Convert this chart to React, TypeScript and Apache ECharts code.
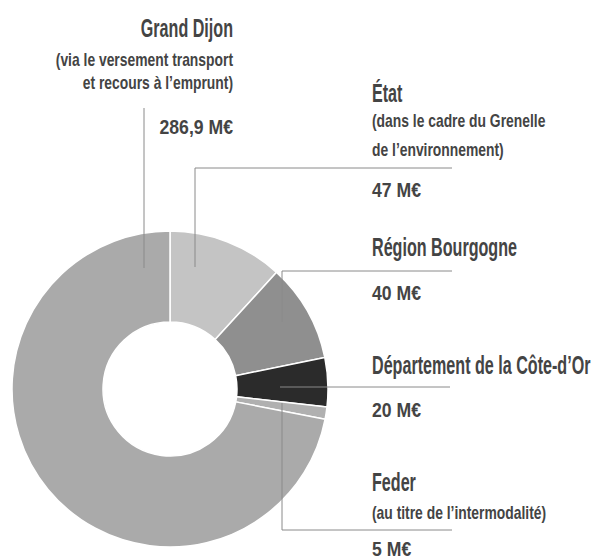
import React, { useEffect, useRef } from "react";
import * as echarts from "echarts";

// Data (clockwise from 12 o'clock)
const categories = ["État", "Région Bourgogne", "Département de la Côte-d’Or", "Feder", "Grand Dijon"];
const amounts = [47, 40, 20, 5, 286.9];
const notes: string[][] = [
  ["(dans le cadre du Grenelle", "de l’environnement)"],
  [],
  [],
  ["(au titre de l’intermodalité)"],
  ["(via le versement transport", "et recours à l’emprunt)"],
];
const unit = "M€";

// Styles
const sliceColors = ["#c4c4c4", "#8f8f8f", "#2b2b2b", "#b0b0b0", "#aaaaaa"];
const FONT = '"Liberation Sans", Arial, sans-serif';
const TEXT_COLOR = "#444444";
const LINE_COLOR = "#8a8a8a";

// Label layout (annotation positions)
const layout = [
  { x: 372, align: "left", titleY: 101, noteYs: [126, 155], valueY: 196, line: [[195, 267], [195, 168], [452, 168]] },
  { x: 372, align: "left", titleY: 255, noteYs: [], valueY: 299, line: [[282, 322], [282, 271], [452, 271]] },
  { x: 372, align: "left", titleY: 373, noteYs: [], valueY: 416, line: [[280, 387], [450, 387]] },
  { x: 372, align: "left", titleY: 490, noteYs: [518], valueY: 555, line: [[282, 403], [282, 530], [452, 530]] },
  { x: 233, align: "right", titleY: 36, noteYs: [65, 88], valueY: 133, line: [[144, 108], [144, 268]] },
];

function fmt(v: number) {
  return String(v).replace(".", ",") + " " + unit;
}

function txt(text: string, x: number, y: number, align: string, size: number, sx: number) {
  return {
    type: "text",
    x,
    y,
    scaleX: sx,
    z: 100,
    silent: true,
    style: {
      text,
      x: 0,
      y: 0,
      textAlign: align,
      textVerticalAlign: "bottom",
      font: `bold ${size}px ${FONT}`,
      fill: TEXT_COLOR,
    },
  };
}

export default function App() {
  const ref = useRef<HTMLDivElement>(null);
  useEffect(() => {
    if (!ref.current) return;
    const chart = echarts.init(ref.current, undefined, { renderer: "svg" });
    const graphics: any[] = [];
    categories.forEach((name, i) => {
      const L = layout[i];
      graphics.push({
        type: "polyline",
        z: 100,
        silent: true,
        shape: { points: L.line },
        style: { stroke: LINE_COLOR, lineWidth: 1, fill: null },
      });
      graphics.push(txt(name, L.x, L.titleY + 5, L.align, 26, 0.62));
      notes[i].forEach((n, j) => {
        graphics.push(txt(n, L.x, L.noteYs[j] + 4, L.align, 19, 0.73));
      });
      graphics.push(txt(fmt(amounts[i]), L.x, L.valueY + 4, L.align, 21, 0.84));
    });

    chart.setOption({
      animation: false,
      backgroundColor: "#ffffff",
      series: [
        {
          type: "pie",
          center: [170, 389],
          radius: [67, 158],
          startAngle: 90,
          clockwise: true,
          silent: true,
          label: { show: false },
          labelLine: { show: false },
          itemStyle: { borderColor: "#ffffff", borderWidth: 1.5 },
          data: categories.map((name, i) => ({
            name,
            value: amounts[i],
            itemStyle: { color: sliceColors[i] },
          })),
        },
      ],
      graphic: graphics,
    });
    return () => chart.dispose();
  }, []);
  return (
    <div
      ref={ref}
      style={{ position: "fixed", left: 0, top: 0, width: 600, height: 560 }}
    />
  );
}
